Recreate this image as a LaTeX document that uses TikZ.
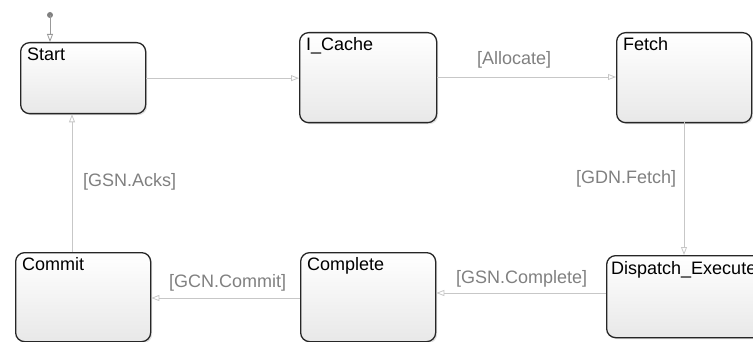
\documentclass[tikz,border=0pt]{standalone}
\usepackage{fontspec}
\setmainfont{Liberation Sans}
\usetikzlibrary{arrows.meta,shadows}
\begin{document}
\begin{tikzpicture}[x=1pt,y=1pt,
  state/.style={draw=black!85, line width=1.3pt, rounded corners=9pt,
    top color=white, bottom color=black!9, anchor=north west, inner sep=0pt,
    drop shadow={shadow xshift=1.5pt, shadow yshift=-1.5pt, opacity=0.25}},
  sname/.style={anchor=base west, inner sep=0pt, font=\fontsize{18}{21}\selectfont, text=black},
  guard/.style={anchor=base west, inner sep=0pt, font=\fontsize{18}{21}\selectfont, text=black!50},
  trans/.style={draw=black!22, line width=0.8pt, -{Triangle[open,length=8pt,width=6pt]}}
]
\useasboundingbox (0,0) rectangle (753,-342);
% states
\node[state, minimum width=125pt, minimum height=71pt] (start) at (20,-42) {};
\node[state, minimum width=137pt, minimum height=90pt] (icache) at (299,-32) {};
\node[state, minimum width=135pt, minimum height=90pt] (fetch) at (616,-32) {};
\node[state, minimum width=160pt, minimum height=82pt] (disp) at (606,-255) {};
\node[state, minimum width=135pt, minimum height=89pt] (commit) at (15,-252) {};
\node[state, minimum width=135pt, minimum height=89pt] (complete) at (300,-252) {};
% names
\node[sname] (startT) at (27,-61) {Start};
\node[sname] (icacheT) at (306,-51) {I\_Cache};
\node[sname] (fetchT) at (623,-51) {Fetch};
\node[sname] (dispT) at (611,-274) {Dispatch\_Execute};
\node[sname] (commitT) at (22,-270) {Commit};
\node[sname] (completeT) at (307,-270) {Complete};
% initial
\fill[black!50] (50,-15) circle (3pt) coordinate (init);
\coordinate (initEnd) at (50,-42);
\draw[trans, draw=black!40] (init) -- (initEnd);
% transitions
\draw[trans] (start.east) -- (start.east -| icache.west);
\draw[trans] (icache.east |- 0,-77) coordinate (a1) -- (a1 -| fetch.west);
\coordinate (f1) at (684,-122);
\draw[trans] (f1) -- (f1 |- disp.north);
\coordinate (d1) at (606,-293);
\draw[trans] (d1) -- (d1 -| complete.east);
\coordinate (c1) at (300,-298);
\draw[trans] (c1) -- (c1 -| commit.east);
\coordinate (k1) at (72,-252);
\draw[trans] (k1) -- (k1 |- start.south);
% guards
\node[guard] (gAlloc) at (477,-65) {[Allocate]};
\node[guard] (gFetch) at (576,-184) {[GDN.Fetch]};
\node[guard] (gComplete) at (456,-283) {[GSN.Complete]};
\node[guard] (gCommit) at (169,-287) {[GCN.Commit]};
\node[guard] (gAcks) at (83,-187) {[GSN.Acks]};
\end{tikzpicture}
\end{document}
